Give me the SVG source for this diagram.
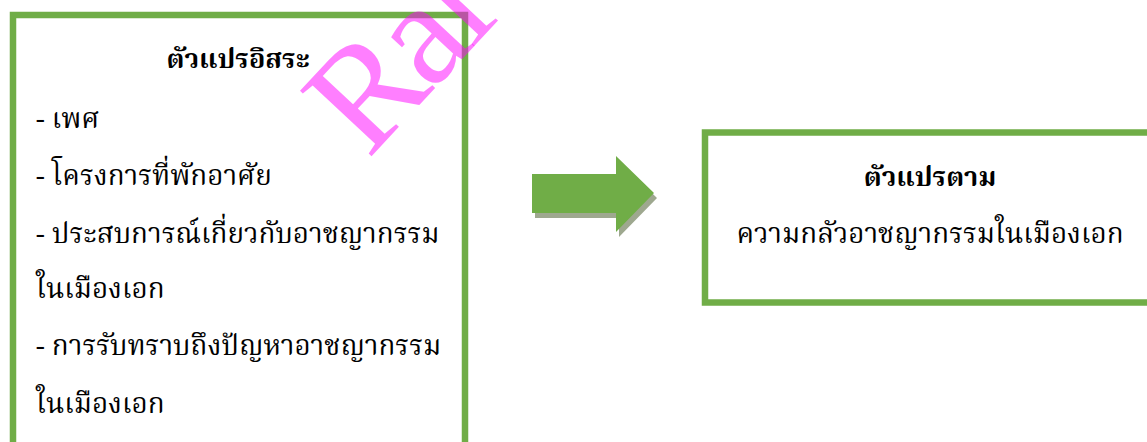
<svg xmlns="http://www.w3.org/2000/svg" width="1147" height="442" viewBox="0 0 1147 442">
<style>
.box{fill:#ffffff;stroke:#70AD47;stroke-width:6.5}
.t{font-family:"Noto Serif Thai","Noto Sans Thai","Loma","Garuda","Norasi","Liberation Serif",serif;font-size:27.8px;fill:#000000}
.b{font-weight:bold;font-size:27px}
.wm{font-family:"Liberation Serif",serif;font-size:148px;fill:#FF00FF;fill-opacity:0.5}
</style>
<rect width="1147" height="442" fill="#ffffff"/>
<g id="node-independent">
<rect class="box" x="13" y="15" width="452" height="460"/>
<text class="t b" x="238" y="68" text-anchor="middle">ตัวแปรอิสระ</text>
<text class="t" x="36" y="128">- เพศ</text>
<text class="t" x="36" y="185">- โครงการที่พักอาศัย</text>
<text class="t" x="36" y="243">- ประสบการณ์เกี่ยวกับอาชญากรรม</text>
<text class="t" x="36" y="298">ในเมืองเอก</text>
<text class="t" x="36" y="355">- การรับทราบถึงปัญหาอาชญากรรม</text>
<text class="t" x="36" y="413">ในเมืองเอก</text>
</g>
<g id="node-dependent">
<rect class="box" x="705" y="132.5" width="470" height="170"/>
<text class="t b" x="930" y="186" text-anchor="middle">ตัวแปรตาม</text>
<text class="t" x="930" y="243" text-anchor="middle">ความกลัวอาชญากรรมในเมืองเอก</text>
</g>
<g id="connectors">
<polygon points="535,179 619,179 619,161 657,198 619,237 619,218 535,218" fill="#9EA88F"/>
<polygon points="532,174 616,174 616,156 654,193 616,232 616,213 532,213" fill="#70AD47"/>
</g>
<text class="wm" transform="translate(368,160) rotate(-47)" letter-spacing="-6">Ral</text>
</svg>
